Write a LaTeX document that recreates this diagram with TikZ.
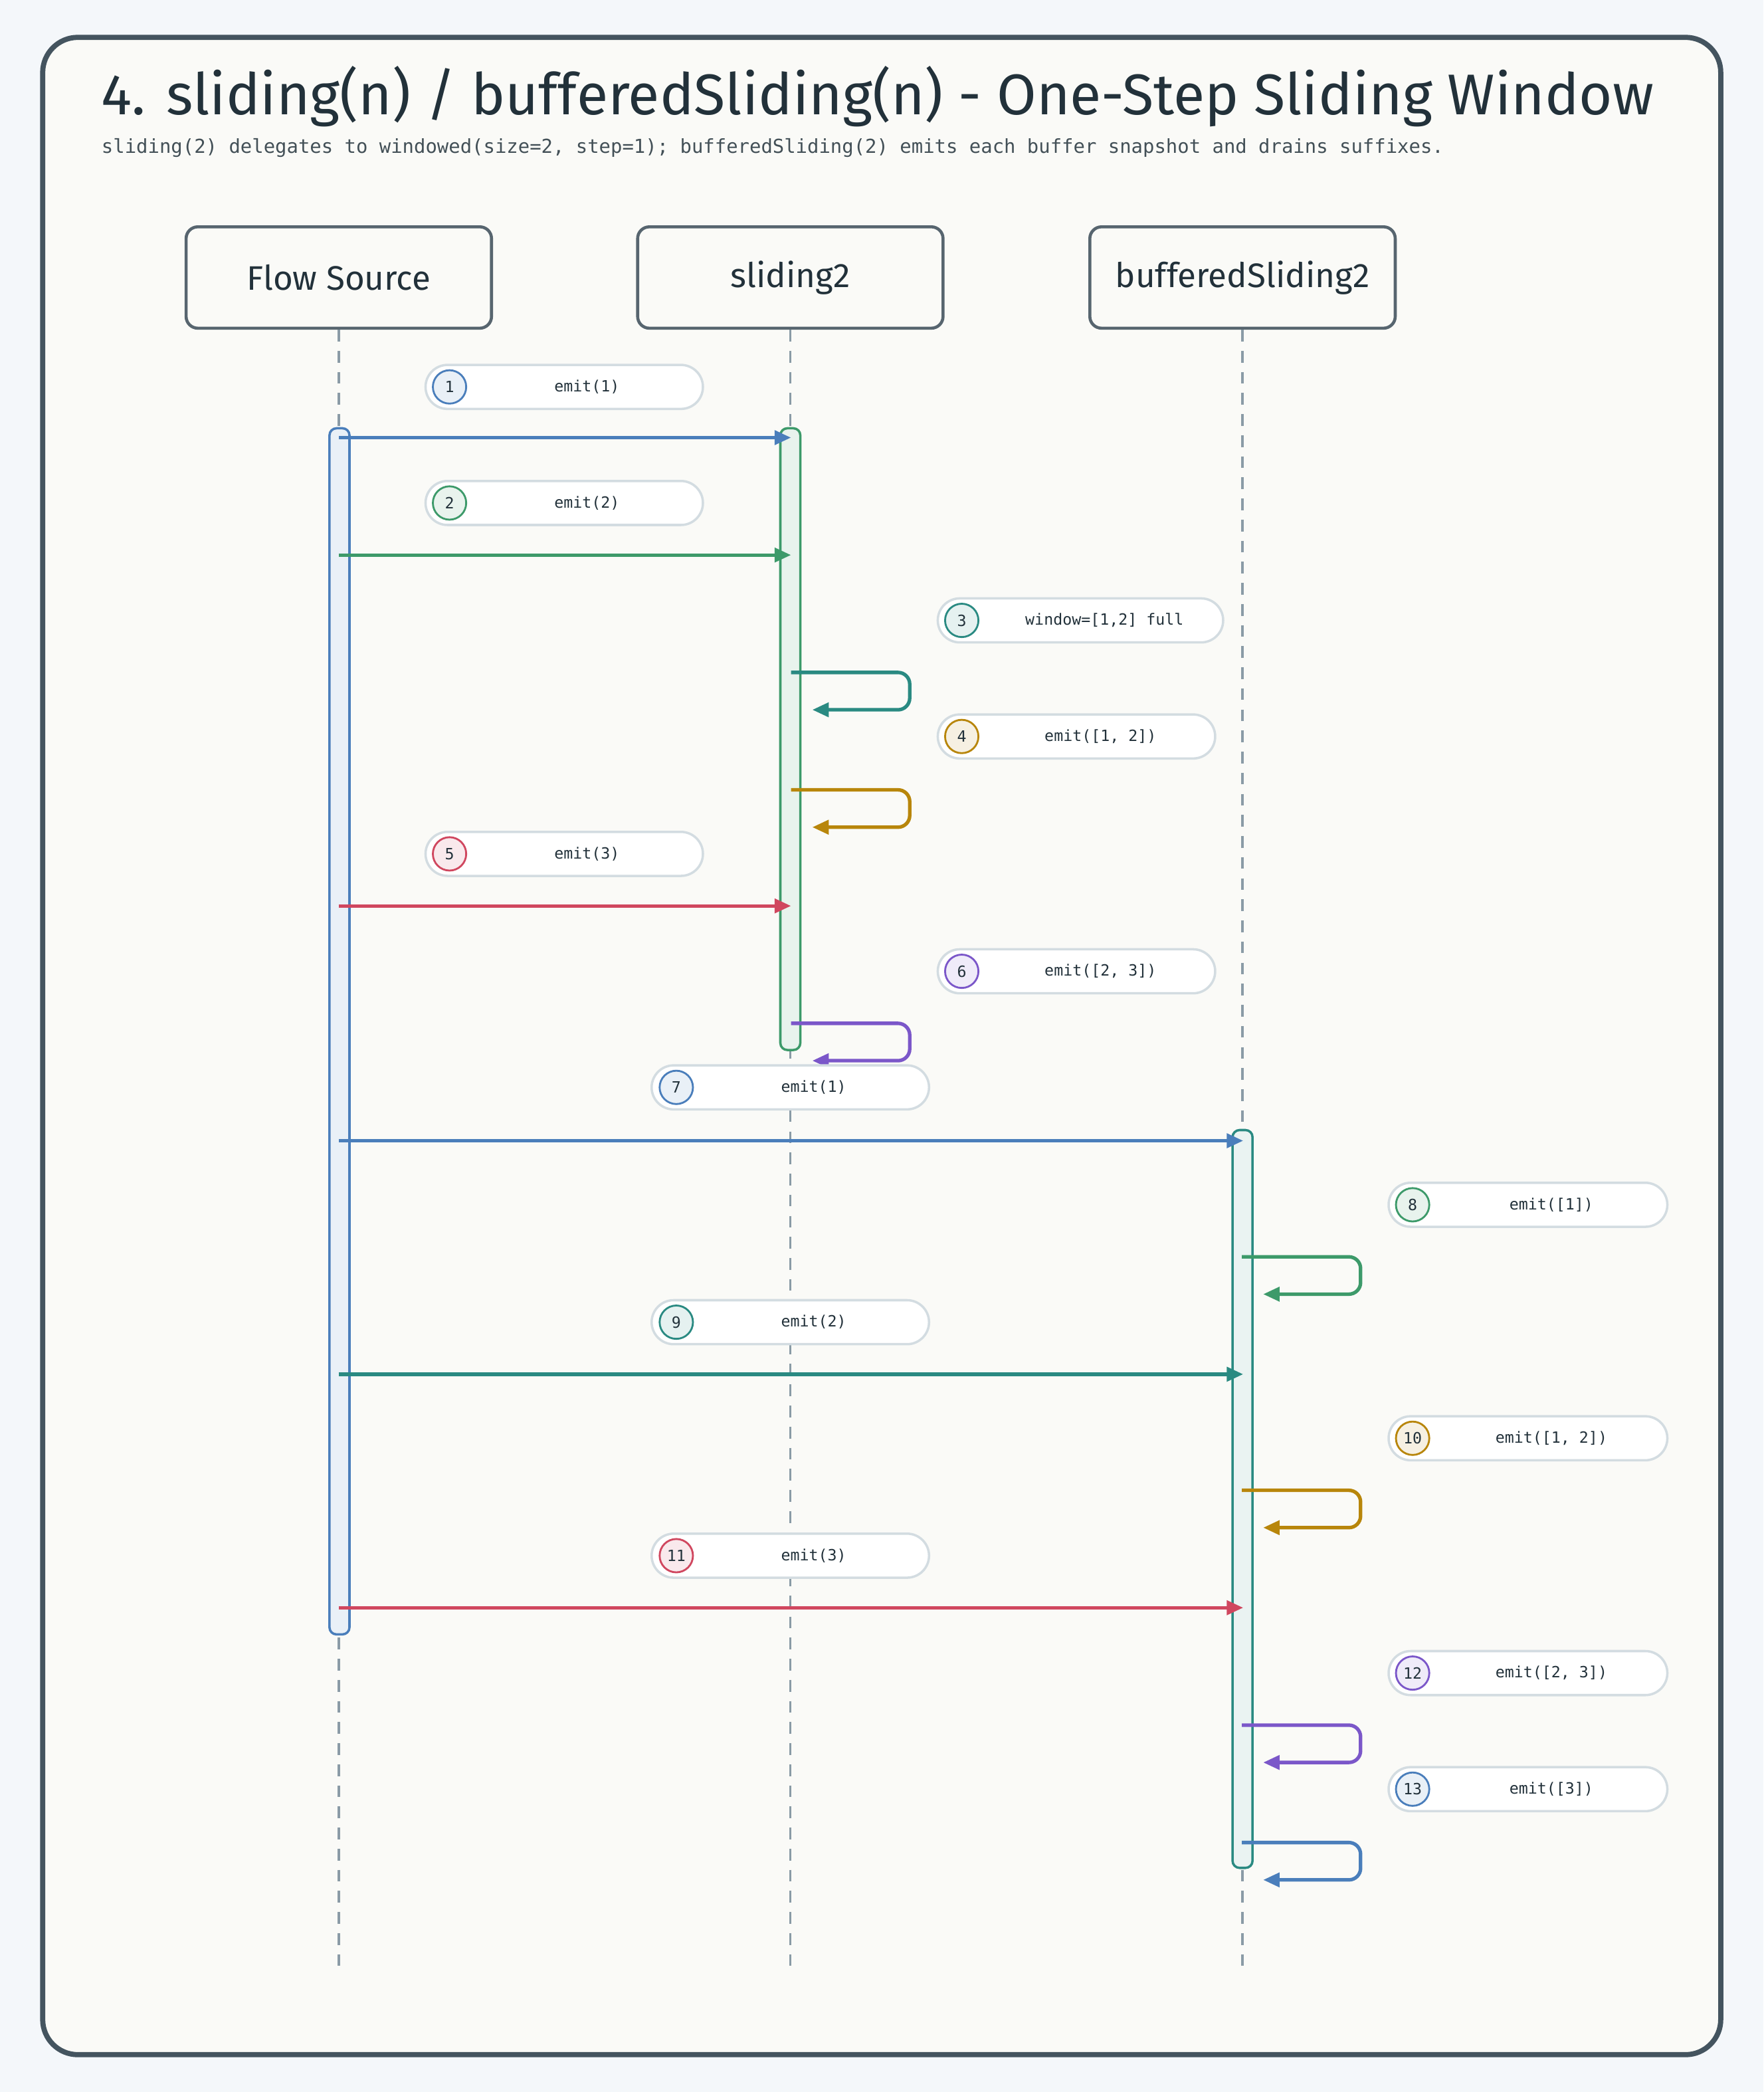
\documentclass[tikz,border=0pt]{standalone}
\usepackage{fontspec}
\setmainfont{Fira Sans}
\setmonofont{DejaVu Sans Mono}
\usetikzlibrary{arrows.meta,shapes.misc}

\definecolor{page}{HTML}{F4F7FA}
\definecolor{paper}{HTML}{FAFAF7}
\definecolor{frame}{HTML}{44545F}
\definecolor{ink}{HTML}{22313A}
\definecolor{life}{HTML}{8A9BA6}
\definecolor{pillline}{HTML}{D3DCE1}
\definecolor{cblue}{HTML}{4A7EBB}
\definecolor{cgreen}{HTML}{3D9A6A}
\definecolor{cteal}{HTML}{2A8A82}
\definecolor{cgold}{HTML}{B8860B}
\definecolor{cred}{HTML}{D0475F}
\definecolor{cpurple}{HTML}{7B57C9}

\tikzset{
  actor/.style={draw=frame!90,line width=1.3pt,rounded corners=5pt,fill=paper,
    minimum width=4.58cm,minimum height=1.52cm,font=\fontsize{14.5}{16}\selectfont,text=ink},
  lifeline/.style={draw=life,line width=1pt,dash pattern=on 5pt off 4pt},
  act/.style={line width=1pt,rounded corners=3pt},
  pill/.style={rounded rectangle,draw=pillline,line width=1pt,fill=white,
    minimum height=0.66cm,inner sep=0pt},
  num/.style={circle,line width=0.8pt,minimum size=0.5cm,inner sep=0pt,
    font=\ttfamily\fontsize{6.6}{8}\selectfont,text=ink},
  lbl/.style={font=\ttfamily\fontsize{6.6}{8}\selectfont,text=ink},
  msg/.style={line width=1.5pt,-{Triangle[length=7pt,width=6pt]}},
  self/.style={msg,rounded corners=5pt}
}

\begin{document}
\begin{tikzpicture}[x=0.02cm,y=-0.02cm]

\fill[page] (0,0) rectangle (1322,1568);
\useasboundingbox (0,0) rectangle (1322,1568);
\draw[frame,fill=paper,line width=2.2pt,rounded corners=15pt] (32,28) rectangle (1290,1540);

\node[anchor=base west,text=ink,font=\fontsize{24.5}{28}\selectfont] (title) at (70,86)
  {4. sliding(n) / bufferedSliding(n) - One-Step Sliding Window};
\node[anchor=base west,text=ink!85,font=\ttfamily\fontsize{8.2}{10}\selectfont] (subtitle) at (70,115)
  {sliding(2) delegates to windowed(size=2, step=1); bufferedSliding(2) emits each buffer snapshot and drains suffixes.};

% participants
\node[actor] (src) at (254,208) {Flow Source};
\node[actor] (sld) at (592.5,208) {sliding2};
\node[actor] (buf) at (931.5,208) {bufferedSliding2};

\coordinate (srcEnd) at (254,1480);
\coordinate (sldEnd) at (592.5,1480);
\coordinate (bufEnd) at (931.5,1480);
\draw[lifeline] (src.south) -- (srcEnd);
\draw[lifeline] (sld.south) -- (sldEnd);
\draw[lifeline] (buf.south) -- (bufEnd);

% activations
\draw[act,draw=cblue,fill=cblue!12] (247,321) rectangle (262,1225);
\draw[act,draw=cgreen,fill=cgreen!12] (585,321) rectangle (600,787);
\draw[act,draw=cteal,fill=cteal!10] (924,847) rectangle (939,1400);

% 1
\node[pill,minimum width=4.16cm] (p1) at (423,290) {};
\node[num,draw=cblue,fill=cblue!12] (n1) at (337,290) {1};
\node[lbl] (t1) at (440,290) {emit(1)};
\coordinate (a1) at (254,328); \coordinate (b1) at (593,328);
\draw[msg,cblue] (a1) -- (b1);

% 2
\node[pill,minimum width=4.16cm] (p2) at (423,377) {};
\node[num,draw=cgreen,fill=cgreen!12] (n2) at (337,377) {2};
\node[lbl] (t2) at (440,377) {emit(2)};
\coordinate (a2) at (254,416); \coordinate (b2) at (593,416);
\draw[msg,cgreen] (a2) -- (b2);

% 3
\node[pill,minimum width=4.28cm] (p3) at (810,465) {};
\node[num,draw=cteal,fill=cteal!12] (n3) at (721,465) {3};
\node[lbl] (t3) at (828,465) {window=[1,2] full};
\coordinate (a3) at (593,504); \coordinate (b3) at (609,532);
\draw[self,cteal] (a3) -- (682,504) -- (682,532) -- (b3);

% 4
\node[pill,minimum width=4.16cm] (p4) at (807,552) {};
\node[num,draw=cgold,fill=cgold!12] (n4) at (721,552) {4};
\node[lbl] (t4) at (825,552) {emit([1, 2])};
\coordinate (a4) at (593,592); \coordinate (b4) at (609,620);
\draw[self,cgold] (a4) -- (682,592) -- (682,620) -- (b4);

% 5
\node[pill,minimum width=4.16cm] (p5) at (423,640) {};
\node[num,draw=cred,fill=cred!12] (n5) at (337,640) {5};
\node[lbl] (t5) at (440,640) {emit(3)};
\coordinate (a5) at (254,679); \coordinate (b5) at (593,679);
\draw[msg,cred] (a5) -- (b5);

% 6
\node[pill,minimum width=4.16cm] (p6) at (807,728) {};
\node[num,draw=cpurple,fill=cpurple!12] (n6) at (721,728) {6};
\node[lbl] (t6) at (825,728) {emit([2, 3])};
\coordinate (a6) at (593,767); \coordinate (b6) at (609,795);
\draw[self,cpurple] (a6) -- (682,767) -- (682,795) -- (b6);

% 7
\node[pill,minimum width=4.16cm] (p7) at (592.5,815) {};
\node[num,draw=cblue,fill=cblue!12] (n7) at (507,815) {7};
\node[lbl] (t7) at (610,815) {emit(1)};
\coordinate (a7) at (254,855); \coordinate (b7) at (932,855);
\draw[msg,cblue] (a7) -- (b7);

% 8
\node[pill,minimum width=4.18cm] (p8) at (1145.5,903) {};
\node[num,draw=cgreen,fill=cgreen!12] (n8) at (1059,903) {8};
\node[lbl] (t8) at (1163,903) {emit([1])};
\coordinate (a8) at (931,942); \coordinate (b8) at (947,970);
\draw[self,cgreen] (a8) -- (1020,942) -- (1020,970) -- (b8);

% 9
\node[pill,minimum width=4.16cm] (p9) at (592.5,991) {};
\node[num,draw=cteal,fill=cteal!12] (n9) at (507,991) {9};
\node[lbl] (t9) at (610,991) {emit(2)};
\coordinate (a9) at (254,1030); \coordinate (b9) at (932,1030);
\draw[msg,cteal] (a9) -- (b9);

% 10
\node[pill,minimum width=4.18cm] (p10) at (1145.5,1078) {};
\node[num,draw=cgold,fill=cgold!12] (n10) at (1059,1078) {10};
\node[lbl] (t10) at (1163,1078) {emit([1, 2])};
\coordinate (a10) at (931,1117); \coordinate (b10) at (947,1145);
\draw[self,cgold] (a10) -- (1020,1117) -- (1020,1145) -- (b10);

% 11
\node[pill,minimum width=4.16cm] (p11) at (592.5,1166) {};
\node[num,draw=cred,fill=cred!12] (n11) at (507,1166) {11};
\node[lbl] (t11) at (610,1166) {emit(3)};
\coordinate (a11) at (254,1205); \coordinate (b11) at (932,1205);
\draw[msg,cred] (a11) -- (b11);

% 12
\node[pill,minimum width=4.18cm] (p12) at (1145.5,1254) {};
\node[num,draw=cpurple,fill=cpurple!12] (n12) at (1059,1254) {12};
\node[lbl] (t12) at (1163,1254) {emit([2, 3])};
\coordinate (a12) at (931,1293); \coordinate (b12) at (947,1321);
\draw[self,cpurple] (a12) -- (1020,1293) -- (1020,1321) -- (b12);

% 13
\node[pill,minimum width=4.18cm] (p13) at (1145.5,1341) {};
\node[num,draw=cblue,fill=cblue!12] (n13) at (1059,1341) {13};
\node[lbl] (t13) at (1163,1341) {emit([3])};
\coordinate (a13) at (931,1381); \coordinate (b13) at (947,1409);
\draw[self,cblue] (a13) -- (1020,1381) -- (1020,1409) -- (b13);

\end{tikzpicture}
\end{document}
